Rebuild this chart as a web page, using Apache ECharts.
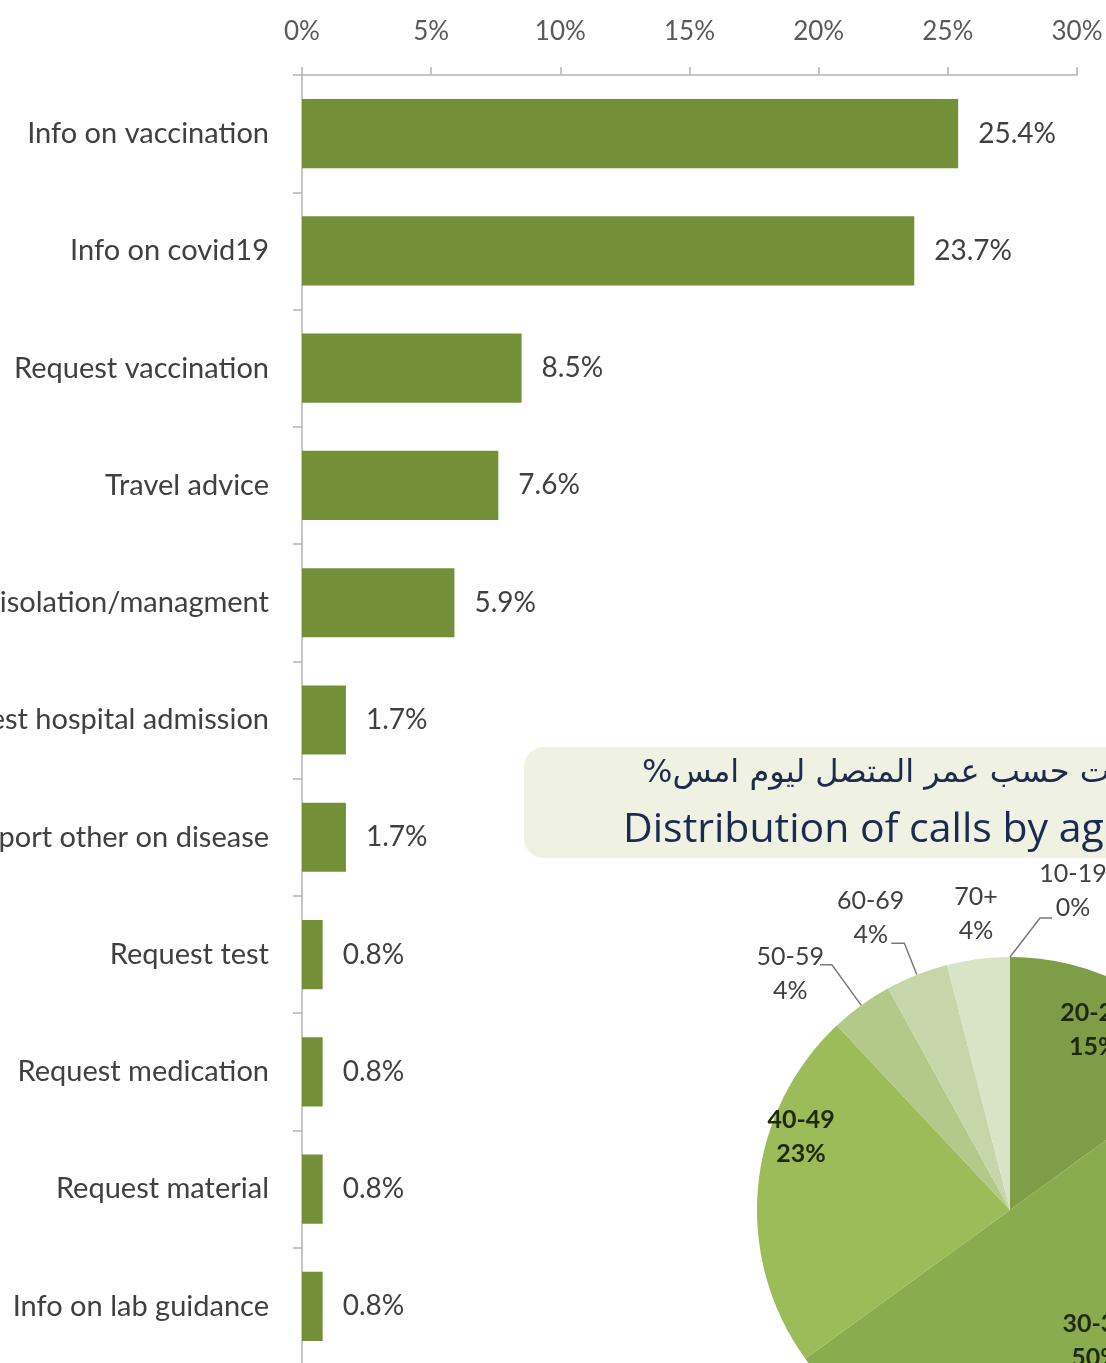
<!DOCTYPE html>
<html>
<head>
<meta charset="utf-8">
<script src="https://cdn.jsdelivr.net/npm/echarts@6/dist/echarts.min.js"></script>
<style>
html,body{margin:0;padding:0;background:#ffffff;}
#chart{width:1106px;height:1363px;}
</style>
</head>
<body>
<div id="chart"></div>
<script>
// ---- data ----
const categories = [
  'Info on vaccination',
  'Info on covid19',
  'Request vaccination',
  'Travel advice',
  'Home isolation/managment',
  'Request hospital admission',
  'Report other on disease',
  'Request test',
  'Request medication',
  'Request material',
  'Info on lab guidance'
];
const callShares = [25.4, 23.7, 8.5, 7.6, 5.9, 1.7, 1.7, 0.8, 0.8, 0.8, 0.8];
const xTicks = [0, 5, 10, 15, 20, 25, 30];

const ageGroups = ['10-19', '20-29', '30-39', '40-49', '50-59', '60-69', '70+'];
const ageShares = [0, 15, 50, 23, 4, 4, 4];

const titleArabic = '\u200Fتوزيع المكالمات حسب عمر المتصل ليوم امس%\u200F';
const titleEnglish = 'Distribution of calls by age group';

// ---- styles ----
const pieColors = ['#6f8a38', '#7f9c46', '#8bab4f', '#9cbb59', '#b2c98a', '#c5d7a8', '#d8e4c6'];
const insideLabels = { '20-29': true, '30-39': true, '40-49': true };
const labelLineLen = { '10-19': [39, 12], '50-59': [50, 12], '60-69': [34, 13], '70+': [20, 0] };
// shift of each label relative to its default box centre (10-19: relative to its leader end)
const labelShift = {
  '10-19': [21, -27], '20-29': [25, -65], '30-39': [10, 26], '40-49': [-80, -61],
  '50-59': [9, 9], '60-69': [18, -25], '70+': [27, -25]
};

const chart = echarts.init(document.getElementById('chart'), null, { renderer: 'canvas' });

const pieData = ageGroups.map(function (g, i) {
  const item = { name: g, value: ageShares[i], itemStyle: { color: pieColors[i] } };
  if (insideLabels[g]) {
    item.label = { position: 'inside', color: '#1e2a10', fontWeight: 'bold' };
  } else {
    const l = labelLineLen[g];
    item.label = { position: 'outside', color: '#404040' };
    item.labelLine = { show: g !== '70+', length: l[0], length2: l[1] };
  }
  return item;
});

chart.setOption({
  animation: false,
  backgroundColor: '#ffffff',
  grid: { left: 302, top: 75, width: 775, height: 1290, outerBoundsMode: 'none', containLabel: false },
  xAxis: {
    type: 'value', position: 'top', min: xTicks[0], max: xTicks[xTicks.length - 1], interval: 5,
    axisLine: { show: true, lineStyle: { color: '#b4b4b4', width: 1.5 } },
    axisTick: { show: true, length: 8, lineStyle: { color: '#b4b4b4', width: 1.5 } },
    splitLine: { show: false },
    axisLabel: { formatter: '{value}%', color: '#595959', fontFamily: 'Lato', fontSize: 26, margin: 30 }
  },
  yAxis: {
    type: 'category', inverse: true, data: categories,
    axisLine: { show: true, lineStyle: { color: '#b4b4b4', width: 1.5 } },
    axisTick: { show: true, length: 9, alignWithLabel: false, lineStyle: { color: '#b4b4b4', width: 1.5 } },
    axisLabel: { color: '#404040', fontFamily: 'Lato', fontSize: 29, margin: 33 }
  },
  graphic: [
    {
      type: 'rect', left: 524, top: 747, z: 1,
      shape: { width: 700, height: 111, r: 20 },
      style: { fill: '#eff1e2' }
    },
    {
      type: 'text', x: 642, y: 774, z: 2,
      style: { text: titleArabic, fill: '#1f2b4d', font: '32px "DejaVu Sans"', textAlign: 'left', textVerticalAlign: 'middle' }
    },
    {
      type: 'text', x: 623, y: 830, z: 2,
      style: { text: titleEnglish, fill: '#1c2a50', font: '41px "Open Sans"', textAlign: 'left', textVerticalAlign: 'middle' }
    }
  ],
  series: [
    {
      type: 'bar', data: callShares, barCategoryGap: '41%',
      itemStyle: { color: '#738f37' },
      label: {
        show: true, position: 'right', distance: 20, color: '#404040', fontFamily: 'Lato', fontSize: 28,
        formatter: function (p) { return p.value.toFixed(1) + '%'; }
      }
    },
    {
      type: 'pie', center: [1010, 1210], radius: 253, startAngle: 90, clockwise: true,
      avoidLabelOverlap: false, z: 3,
      itemStyle: { borderWidth: 0 },
      label: {
        show: true, fontFamily: 'Lato', fontSize: 25, lineHeight: 34,
        formatter: function (p) { return p.name + '\n' + p.value + '%'; }
      },
      labelLine: { lineStyle: { color: '#7a7a7a', width: 1.5 } },
      labelLayout: function (p) {
        const g = ageGroups[p.dataIndex];
        const s = labelShift[g];
        const r = p.labelRect;
        const res = {
          x: r.x + r.width / 2 + s[0], y: r.y + r.height / 2 + s[1],
          align: 'center', verticalAlign: 'middle'
        };
        if (p.labelLinePoints) {
          if (g === '10-19') {
            const p0 = p.labelLinePoints[0];
            const pts = [[p0[0], p0[1]], [p0[0] + 30, p0[1] - 39], [p0[0] + 42, p0[1] - 39]];
            res.labelLinePoints = pts;
            res.x = pts[2][0] + s[0];
            res.y = pts[2][1] + s[1];
          } else {
            res.labelLinePoints = p.labelLinePoints;
          }
        }
        return res;
      },
      data: pieData
    }
  ]
});
</script>
</body>
</html>
